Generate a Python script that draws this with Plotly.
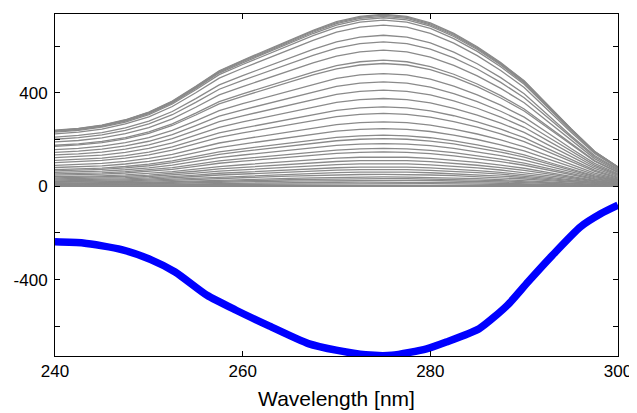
import plotly.graph_objects as go

# Wavelength grid for the gray spectra family (nm)
wavelength = [240, 242.5, 245, 247.5, 250, 252.5, 255, 257.5, 260, 262.5, 265, 267.5,
              270, 272.5, 275, 277.5, 280, 282.5, 285, 287.5, 290, 292.5, 295, 297.5, 300]
# Top (largest) gray spectrum
top_spectrum = [240, 248, 262, 285, 318, 365, 428, 495, 540, 582, 626, 668,
                705, 728, 737, 728, 700, 655, 598, 530, 452, 350, 247, 150, 83]
# Height of each gray spectrum at ~275 nm
peak_heights = [737, 733, 728, 722, 712, 690, 647, 619, 583, 540, 526, 483, 447, 412,
                376, 340, 312, 276, 247, 219, 204, 183, 162, 147, 126, 111, 97, 83,
                72, 61, 51, 40, 33, 26, 18, 12, 6, 2, 0]

# Blue difference spectrum
blue_wavelength = [240, 243.0, 247.1, 250.2, 252.8, 256.2, 259.3, 262.7, 267.0, 270.1,
                   273.1, 275.9, 279.6, 281.7, 285.2, 288.2, 290.4, 293.0, 296.0, 298.2, 300]
blue_values = [-238, -243, -271, -314, -367, -467, -531, -596, -674, -703,
               -722, -724, -696, -667, -610, -510, -410, -296, -174, -117, -81]

y_tickvals = [-600, -400, -200, 0, 200, 400, 600]
y_ticktext = ["", "-400", "", "0", "", "400", ""]
x_tickvals = [240, 260, 280, 300]

fig = go.Figure()
top_peak = max(top_spectrum)
for h in peak_heights:
    fig.add_trace(go.Scatter(
        x=wavelength, y=[v * h / top_peak for v in top_spectrum],
        mode="lines", line=dict(color="#8a8a8a", width=1.3),
        showlegend=False, hoverinfo="skip"))
fig.add_trace(go.Scatter(
    x=blue_wavelength, y=blue_values, mode="lines",
    line=dict(color="#0000ff", width=7.5, shape="spline", smoothing=0.6),
    showlegend=False))

axis_font = dict(family="Liberation Sans, Arial, sans-serif", size=17, color="black")
fig.update_layout(
    width=629, height=405,
    margin=dict(l=47, r=19, t=6, b=57),
    paper_bgcolor="white", plot_bgcolor="white",
    font=axis_font,
    xaxis=dict(range=[240, 300], tickvals=x_tickvals, ticks="inside", ticklen=5,
               tickcolor="black", showline=True, linecolor="black", linewidth=1,
               mirror="ticks", showgrid=False, zeroline=False,
               title=dict(text="Wavelength [nm]", font=dict(size=21), standoff=10),
               tickfont=axis_font, automargin=False),
    yaxis=dict(range=[-727, 738], tickvals=y_tickvals, ticktext=y_ticktext,
               ticks="inside", ticklen=5, tickcolor="black", showline=True,
               linecolor="black", linewidth=1, mirror="ticks", showgrid=False,
               zeroline=False, tickfont=axis_font, automargin=False,
               ticklabelstandoff=3),
)
fig.write_html("out.html")
